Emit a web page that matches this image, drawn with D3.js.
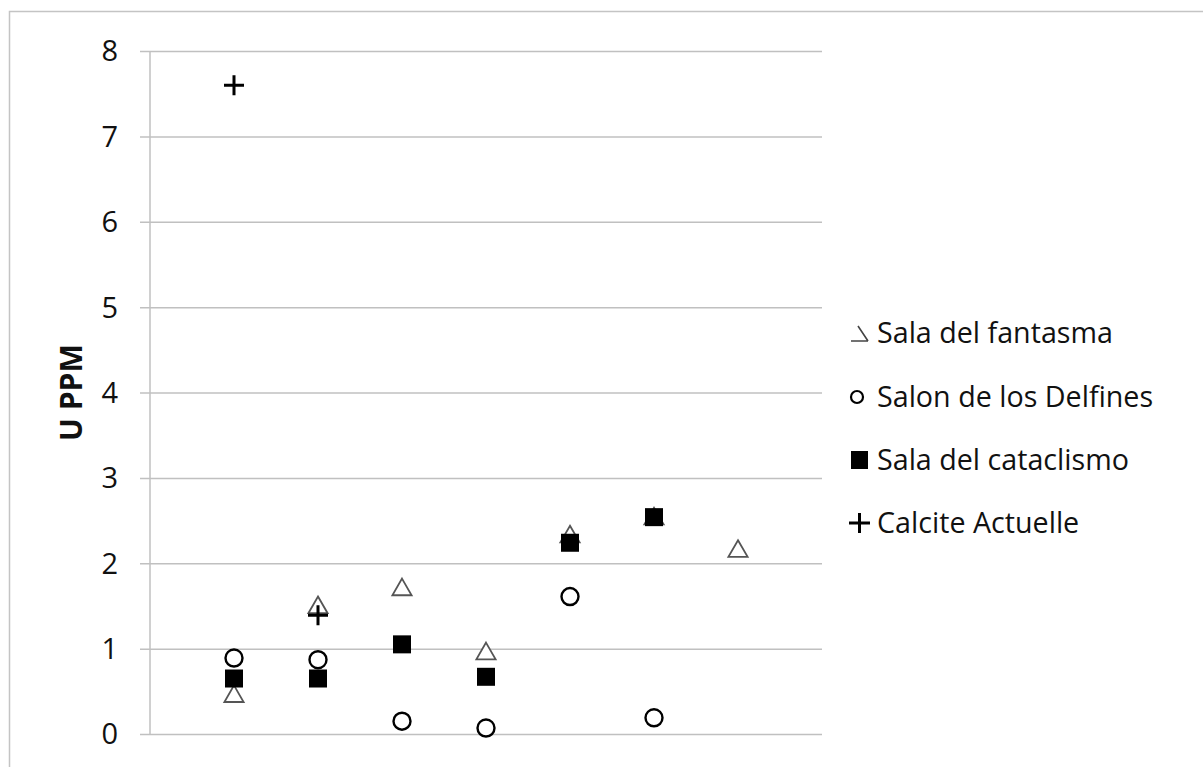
<!DOCTYPE html>
<html><head><meta charset="utf-8">
<script src="https://cdn.jsdelivr.net/npm/d3@7"></script>
<style>
html,body{margin:0;padding:0;background:#fff;}
svg{display:block;}
text{font-family:"Open Sans", Lato, sans-serif;fill:#111;}
</style></head>
<body>
<svg id="chart" width="1203" height="767"></svg>
<script>
const xPositions = [1, 2, 3, 4, 5, 6, 7];
const yTicks = [0, 1, 2, 3, 4, 5, 6, 7, 8];
const salaFantasma = [0.44, 1.48, 1.69, 0.94, 2.31, 2.52, 2.14];
const salonDelfines = [0.89, 0.87, 0.15, 0.07, 1.61, 0.19];
const salaCataclismo = [0.65, 0.65, 1.05, 0.67, 2.24, 2.54];
const calciteActuelle = [7.6, 1.39];
const seriesNames = ["Sala del fantasma", "Salon de los Delfines", "Sala del cataclismo", "Calcite Actuelle"];
const yTitle = "U PPM";

const svg = d3.select("#chart");
const x = d3.scaleLinear().domain([0, 8]).range([150, 822]);
const y = d3.scaleLinear().domain([0, 8]).range([734, 51]);

// outer border
svg.append("rect").attr("x", 9.5).attr("y", 11.5).attr("width", 1220).attr("height", 800)
  .attr("fill", "none").attr("stroke", "#c4c4c4").attr("stroke-width", 1.5);

// gridlines + ticks
const yAxis = d3.axisLeft(y).tickValues(yTicks).tickSize(-(x(8) - x(0))).tickFormat("").tickSizeOuter(0);
const g = svg.append("g").attr("transform", `translate(${x(0)},0)`).call(yAxis);
g.select(".domain").remove();
g.selectAll(".tick line").attr("stroke", "#c0c0c0").attr("stroke-width", 1.5).attr("x1", -10);
// axis line
svg.append("line").attr("x1", x(0)).attr("x2", x(0)).attr("y1", y(8)).attr("y2", y(0))
  .attr("stroke", "#c0c0c0").attr("stroke-width", 1.5);
// tick labels
svg.selectAll("text.ytick").data(yTicks).enter().append("text")
  .attr("class", "ytick").attr("x", 118).attr("y", d => y(d)).attr("dy", "0.36em")
  .attr("text-anchor", "end").style("font-size", "29px").text(d => d);

// y title
const yt = svg.append("text").attr("transform", `translate(82,${(y(0) + y(8)) / 2}) rotate(-90)`)
  .attr("text-anchor", "middle").style("font-size", "27px").style("font-weight", "bold").text(yTitle);
{
  const w = yt.node().getComputedTextLength();
  yt.style("font-size", (27 * 97 / w) + "px");
}

const plot = svg.append("g");
const tri = d3.symbol().type(d3.symbolTriangle).size(160);
// triangles
plot.selectAll("path.tri").data(salaFantasma).enter().append("path")
  .attr("d", tri).attr("transform", (d, i) => `translate(${x(xPositions[i])},${y(d)})`)
  .attr("fill", "#fff").attr("stroke", "#555").attr("stroke-width", 1.8);
// circles
plot.selectAll("circle.del").data(salonDelfines).enter().append("circle")
  .attr("cx", (d, i) => x(xPositions[i])).attr("cy", d => y(d)).attr("r", 8.5)
  .attr("fill", "#fff").attr("stroke", "#000").attr("stroke-width", 2.4);
// squares
plot.selectAll("rect.cat").data(salaCataclismo).enter().append("rect")
  .attr("x", (d, i) => x(xPositions[i]) - 9).attr("y", d => y(d) - 9).attr("width", 18).attr("height", 18)
  .attr("fill", "#000");
// plus
const plusPath = "M-10,0H10M0,-10V10";
plot.selectAll("path.plus").data(calciteActuelle).enter().append("path")
  .attr("d", plusPath).attr("transform", (d, i) => `translate(${x(xPositions[i])},${y(d)})`)
  .attr("stroke", "#000").attr("stroke-width", 3).attr("fill", "none");

// legend
const legBase = [343, 407, 470, 533];
const leg = svg.append("g");
const legTexts = [];
seriesNames.forEach((name, i) => {
  const cy = legBase[i] - 10;
  legTexts.push(leg.append("text").attr("x", 877).attr("y", legBase[i]).style("font-size", "26px").text(name));
  if (i === 0) {
    leg.append("path").attr("d", `M851,${cy + 8}H868M858,${cy - 7}L868,${cy + 8}`)
      .attr("stroke", "#444").attr("stroke-width", 1.6).attr("fill", "none");
  } else if (i === 1) {
    leg.append("circle").attr("cx", 857).attr("cy", cy).attr("r", 6)
      .attr("fill", "#fff").attr("stroke", "#000").attr("stroke-width", 2.2);
  } else if (i === 2) {
    leg.append("rect").attr("x", 851).attr("y", cy - 9).attr("width", 17).attr("height", 18).attr("fill", "#000");
  } else {
    leg.append("path").attr("d", `M849,${cy}H870M859.5,${cy - 10}V${cy + 10}`)
      .attr("stroke", "#000").attr("stroke-width", 3);
  }
});
{
  const w = legTexts[0].node().getComputedTextLength();
  const fs = 26 * 236 / w;
  legTexts.forEach(t => t.style("font-size", fs + "px"));
}
</script>
</body></html>
